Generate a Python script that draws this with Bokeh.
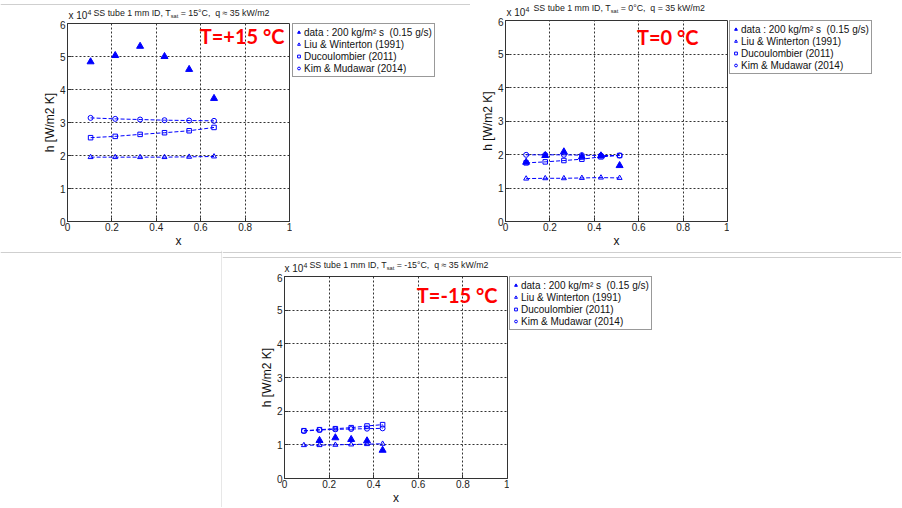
from bokeh.plotting import figure
from bokeh.layouts import row, column
from bokeh.models import Label, Legend, LegendItem, FixedTicker, Range1d, Span
from bokeh.embed import file_html
from bokeh.resources import INLINE

# ---------------- data (h in W/m2 K) ----------------
x_ticks = [0, 0.2, 0.4, 0.6, 0.8, 1]
x_tick_labels = ["0", "0.2", "0.4", "0.6", "0.8", "1"]
y_ticks = [0, 10000, 20000, 30000, 40000, 50000, 60000]
y_tick_labels = ["0", "1", "2", "3", "4", "5", "6"]

NB = "\u00a0"  # non-breaking space keeps leading / doubled spaces in the SVG text
legend_labels = [f"data : 200 kg/m\u00b2 s{NB}{NB}(0.15 g/s)", "Liu & Winterton (1991)",
                 "Ducoulombier (2011)", "Kim & Mudawar (2014)"]

# T = +15 C
x_p15 = [0.104, 0.215, 0.327, 0.437, 0.548, 0.660]
data_p15 = [48400, 50300, 53100, 50000, 46100, 37300]
liu_p15 = [19500, 19500, 19500, 19500, 19600, 19700]
duc_p15 = [25400, 25800, 26400, 26900, 27500, 28500]
kim_p15 = [31400, 31100, 30900, 30700, 30600, 30500]

# T = 0 C
x_0 = [0.093, 0.179, 0.263, 0.344, 0.430, 0.514]
data_0 = [17700, 19700, 20800, 19300, 19600, 16700]
liu_0 = [12800, 12900, 12900, 13000, 13100, 13000]
duc_0 = [17500, 17800, 18200, 18600, 19300, 19700]
kim_0 = [19900, 19900, 19900, 19800, 19700, 19700]

# T = -15 C
x_m15 = [0.087, 0.157, 0.228, 0.299, 0.370, 0.440]
x_data_m15 = [0.157, 0.228, 0.299, 0.370, 0.440]
data_m15 = [11300, 12100, 11600, 11200, 8400]
liu_m15 = [9900, 9900, 10000, 10100, 10200, 10300]
duc_m15 = [14200, 14500, 14800, 15100, 15600, 16000]
kim_m15 = [14100, 14400, 14600, 14700, 14800, 14900]

BLUE = "#0000ff"
FONT = "Liberation Sans"
SEP = "#cfcfcf"
RAISE = 0.45   # compensation for where an "alphabetic" label lands
TITLE_PX = 8.8

# Arial advance widths (per 1000 em) for placing sub/superscript pieces
AW = {" ": 278, NB: 278, ",": 278, ".": 278, "/": 278, ":": 278, "=": 584, "-": 333,
      "\u00b0": 400, "\u2248": 549, "C": 722, "D": 722, "I": 278, "S": 667,
      "T": 611, "W": 944, "a": 556, "b": 556, "e": 556, "k": 500, "m": 833,
      "q": 556, "s": 500, "t": 278, "u": 556, "x": 500}


def tw(s, size):
    return sum(AW.get(c, 556) for c in s) / 1000.0 * size


def blank(w, h):
    f = figure(width=w, height=h, min_border=0, x_axis_type=None, y_axis_type=None,
               x_range=Range1d(0, w), y_range=Range1d(0, h),
               output_backend="svg", toolbar_location=None, tools="")
    f.outline_line_color = None
    f.background_fill_color = "white"
    f.border_fill_color = "white"
    f.grid.visible = False
    return f


def add_pieces(f, pieces, x0, y0, color="#1a1a1a"):
    cur = x0
    for text, size, shift in pieces:
        f.add_layout(Label(x=cur, y=y0 + shift + RAISE * size,
                           x_units="screen", y_units="screen",
                           text=text, text_font=FONT, text_font_size=f"{size}px",
                           text_color=color, text_baseline="alphabetic",
                           text_align="left"))
        cur += tw(text, size)


def make_panel(total_w, strip_h, pw, ph, bl, br, bb, series, tsat, qsym,
               title_x, title_y, mult_x, red_text, red_dx, red_dy):
    xs, dx_, dy_, liu, duc, kim = series
    # --- title strip (title with subscript, x 10^4 multiplier)
    t = blank(total_w, strip_h)
    add_pieces(t, [("SS tube 1 mm ID, T", TITLE_PX, 0), ("sat", 5.6, -2),
                   (f"{NB}={NB}{tsat}\u00b0C,{NB}{NB}q{NB}{qsym}{NB}35 kW/m2", TITLE_PX, 0)],
               title_x, title_y)
    add_pieces(t, [(f"x{NB}10", 10, 0), ("4", 7, 4)], mult_x, 0.5)

    # --- plot
    p = figure(width=pw, height=ph, min_border_left=bl, min_border_right=br,
               min_border_top=3, min_border_bottom=bb,
               x_range=Range1d(0, 1), y_range=Range1d(0, 60000),
               output_backend="svg", toolbar_location=None, tools="")
    p.background_fill_color = "white"
    p.border_fill_color = "white"
    p.outline_line_color = "#333333"
    p.outline_line_width = 1
    for ax, ticks, labels in ((p.xaxis[0], x_ticks, x_tick_labels),
                              (p.yaxis[0], y_ticks, y_tick_labels)):
        ax.ticker = FixedTicker(ticks=ticks)
        ax.major_label_overrides = dict(zip(ticks, labels))
        ax.major_tick_in = 4
        ax.major_tick_out = 0
        ax.minor_tick_line_color = None
        ax.axis_line_color = "#333333"
        ax.major_tick_line_color = "#333333"
        ax.major_label_text_font = FONT
        ax.major_label_text_font_size = "10px"
        ax.major_label_text_color = "#222222"
        ax.axis_label_text_font = FONT
        ax.axis_label_text_font_size = "12px"
        ax.axis_label_text_font_style = "normal"
        ax.axis_label_text_color = "#111111"
        ax.axis_label_standoff = 0
    p.xaxis.axis_label = "x"
    p.xaxis.major_label_standoff = 1
    p.yaxis.axis_label = "h [W/m2 K]"
    p.yaxis.major_label_standoff = 2
    p.grid.grid_line_color = "#333333"
    p.grid.grid_line_dash = "2 2"
    p.grid.grid_line_width = 1
    p.xgrid.ticker = FixedTicker(ticks=x_ticks)
    p.ygrid.ticker = FixedTicker(ticks=y_ticks)

    p.scatter(dx_, dy_, marker="triangle", size=7, fill_color=BLUE, line_color=BLUE)
    for ys, mk, sz in ((liu, "triangle", 5), (duc, "square", 4.5), (kim, "circle", 5)):
        p.line(xs, ys, line_color=BLUE, line_dash="4 2", line_width=1)
        p.scatter(xs, ys, marker=mk, size=sz, fill_color=None,
                  line_color=BLUE, line_width=1)
    p.add_layout(Label(x=1, y=60000, x_offset=red_dx, y_offset=red_dy + RAISE * 20,
                       text=red_text, text_font="Lato", text_font_style="bold",
                       text_font_size="20px", text_color="#ff0000",
                       text_align="right", text_baseline="alphabetic"))

    # --- legend box next to the plot; its glyphs come from the same series,
    #     drawn in a figure whose ranges keep the points themselves out of view
    lw = total_w - pw
    lg = figure(width=lw, height=ph, min_border_left=0, min_border_right=0,
                min_border_top=3, min_border_bottom=0,
                x_axis_type=None, y_axis_type=None,
                x_range=Range1d(-3, -2), y_range=Range1d(-3, -2),
                output_backend="svg", toolbar_location=None, tools="")
    lg.outline_line_color = None
    lg.grid.visible = False
    lg.background_fill_color = "white"
    lg.border_fill_color = "white"
    rends = [lg.scatter(dx_, dy_, marker="triangle", size=7, fill_color=BLUE, line_color=BLUE)]
    for ys, mk, sz in ((liu, "triangle", 5), (duc, "square", 4.5), (kim, "circle", 5)):
        rends.append(lg.scatter(xs, ys, marker=mk, size=sz, fill_color=None,
                                line_color=BLUE, line_width=1))
    legend = Legend(items=[LegendItem(label=l, renderers=[r])
                           for l, r in zip(legend_labels, rends)],
                    location="top_left", margin=0, padding=2, spacing=0,
                    label_height=12, glyph_height=12, glyph_width=7,
                    label_standoff=2, label_text_font=FONT,
                    label_text_font_size="10px", label_text_color="#111111",
                    border_line_color="#333333", border_line_width=1,
                    background_fill_color="white", background_fill_alpha=1)
    lg.add_layout(legend, "center")
    return t, p, lg


# top-left panel (T = +15 C)
t1, p1, l1 = make_panel(470, 20, 292, 230, 67, 3, 24,
                        (x_p15, x_p15, data_p15, liu_p15, duc_p15, kim_p15),
                        "15", "\u2248", 93, 4, 68, "T=+15 \u00b0C", -5, -21)
t1.add_layout(Span(location=16, dimension="width", line_color=SEP, line_width=1))

# top-right panel (T = 0 C)
t2, p2, l2 = make_panel(431, 17, 259, 233, 35, 2, 28,
                        (x_0, x_0, data_0, liu_0, duc_0, kim_0),
                        "0", "=", 63, 5.5, 36, "T=0 \u00b0C", -29, -25)

# bottom panel (T = -15 C)
t3, p3, l3 = make_panel(679, 23, 287, 234, 62, 2, 26,
                        (x_m15, x_data_m15, data_m15, liu_m15, duc_m15, kim_m15),
                        "-15", "\u2248", 87, 5, 62, "T=-15 \u00b0C", -10, -27)
t3.add_layout(Span(location=16, dimension="width", line_color=SEP, line_width=1))
t3.add_layout(Span(location=21, dimension="width", line_color=SEP, line_width=1))

left_blank = blank(222, 257)
left_blank.add_layout(Span(location=255, dimension="width", line_color=SEP, line_width=1))
left_blank.add_layout(Span(location=221.5, dimension="height", line_color=SEP, line_width=1))

layout = column(
    row(column(t1, row(p1, l1)), column(t2, row(p2, l2))),
    row(left_blank, column(t3, row(p3, l3))),
)

open("out.html", "w").write(file_html(layout, INLINE))
